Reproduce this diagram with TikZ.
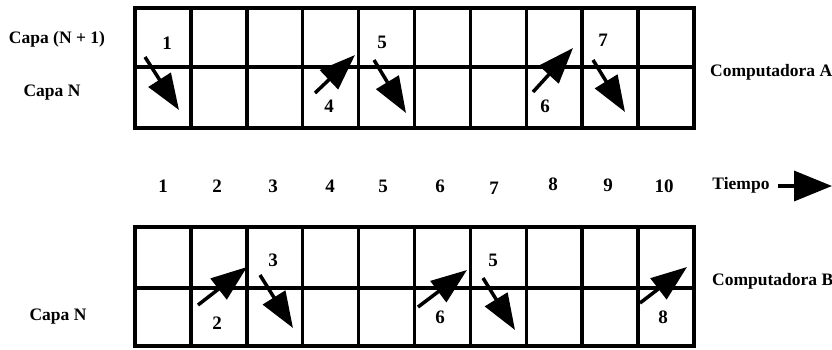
\documentclass[tikz,border=0pt]{standalone}
\usepackage{fontspec}
\setmainfont{Liberation Serif}
\usetikzlibrary{arrows.meta}
\tikzset{
  gridline/.style={line width=3.5pt, line join=miter},
  msgarrow/.style={line width=3.5pt, -{Triangle[length=36pt 0,width=26pt 0]}},
  timearrow/.style={line width=3.5pt, -{Triangle[length=38pt 0,width=30pt 0]}},
  lbl/.style={inner sep=0pt, font=\fontsize{17.5}{17.5}\selectfont\bfseries},
  num/.style={inner sep=0pt, font=\fontsize{19}{19}\selectfont\bfseries},
}
\begin{document}
\begin{tikzpicture}[x=1pt,y=-1pt]
\useasboundingbox (0,0) rectangle (832,349);
% grids
\def\cw{55.9}
\draw[gridline] (135,8) rectangle (694,128);
\draw[gridline] (135,67) -- (694,67);
\draw[gridline] (135,227) rectangle (694,346);
\draw[gridline] (135,288) -- (694,288);
\foreach \i in {1,...,9}{
  \draw[gridline] (135+\i*\cw,8) -- (135+\i*\cw,128);
  \draw[gridline] (135+\i*\cw,227) -- (135+\i*\cw,346);
}
% side labels
\node[lbl] (capaN1) at (57,39) {Capa (N + 1)};
\node[lbl] (capaNa) at (52,93) {Capa N};
\node[lbl] (capaNb) at (58,317) {Capa N};
\node[lbl, anchor=west] (compA) at (710,72) {Computadora A};
\node[lbl, anchor=west] (compB) at (712,281) {Computadora B};
% time axis
\foreach \n/\x/\y in {1/163/186, 2/217/186, 3/273/186, 4/330/186, 5/383/186, 6/440/186, 7/494/188, 8/553/184, 9/608/185, 10/664/186}
  \node[num] (t\n) at (\x,\y) {\n};
\node[lbl] (tiempo) at (741,185) {Tiempo};
\coordinate (tA) at (778,186);
\coordinate (tB) at (832,186);
\draw[timearrow] (tA) -- (tB);
% Computadora A arrows
\coordinate (a1s) at (145,57);  \coordinate (a1e) at (179,110);
\coordinate (a4s) at (315,93);  \coordinate (a4e) at (355,55);
\coordinate (a5s) at (374,60);  \coordinate (a5e) at (406,113);
\coordinate (a6s) at (533,92);  \coordinate (a6e) at (573,48);
\coordinate (a7s) at (593,60);  \coordinate (a7e) at (625,112);
\foreach \k in {1,4,5,6,7} \draw[msgarrow] (a\k s) -- (a\k e);
\node[num] (la1) at (167,43) {1};
\node[num] (la4) at (329,106) {4};
\node[num] (la5) at (382,42) {5};
\node[num] (la6) at (545,106) {6};
\node[num] (la7) at (603,40) {7};
% Computadora B arrows
\coordinate (b2s) at (198,305); \coordinate (b2e) at (247,267);
\coordinate (b3s) at (260,275); \coordinate (b3e) at (293,328);
\coordinate (b6s) at (418,307); \coordinate (b6e) at (467,270);
\coordinate (b5s) at (483,278); \coordinate (b5e) at (515,330);
\coordinate (b8s) at (640,303); \coordinate (b8e) at (687,267);
\foreach \k in {2,3,6,5,8} \draw[msgarrow] (b\k s) -- (b\k e);
\node[num] (lb2) at (217,323) {2};
\node[num] (lb3) at (273,260) {3};
\node[num] (lb6) at (440,317) {6};
\node[num] (lb5) at (493,260) {5};
\node[num] (lb8) at (663,317) {8};
\end{tikzpicture}
\end{document}
